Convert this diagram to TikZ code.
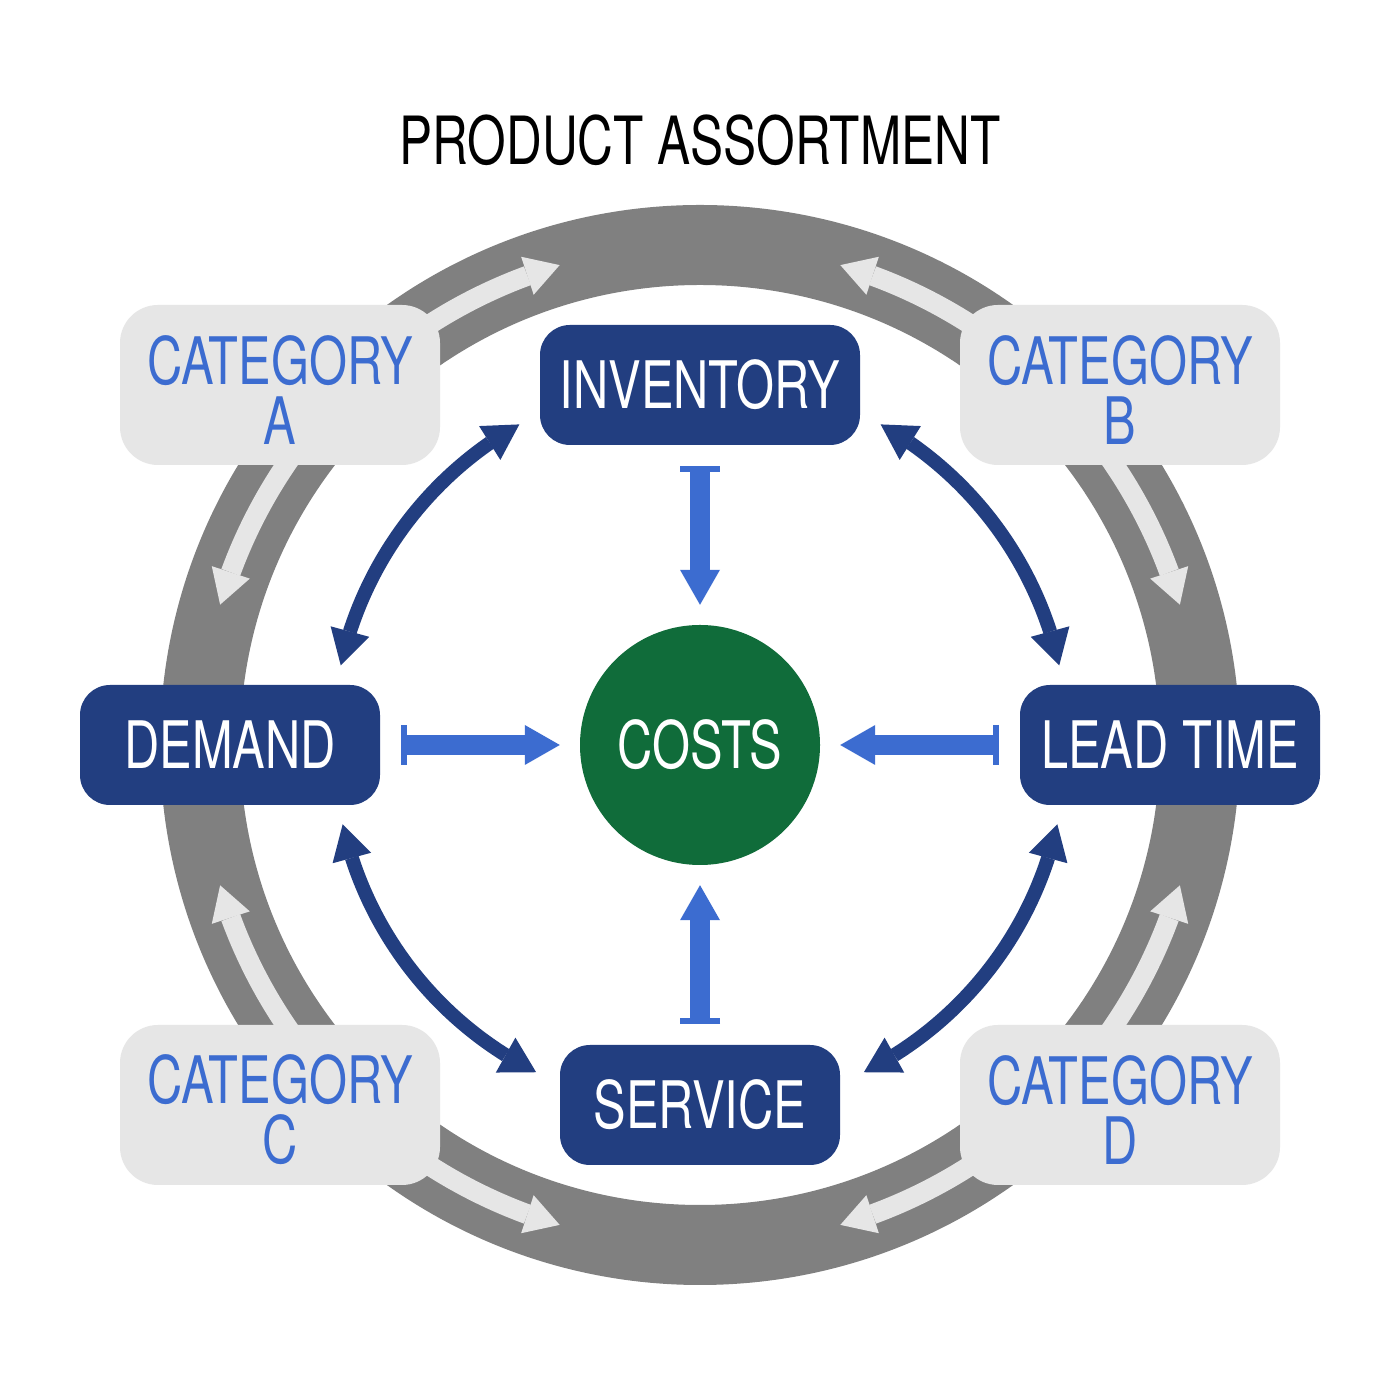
\documentclass[tikz,border=0pt]{standalone}
\usepackage{fontspec}
\setmainfont{TeX Gyre Heros}[FakeStretch=0.745]
\usetikzlibrary{arrows.meta,bending}
\definecolor{navy}{RGB}{34,62,128}
\definecolor{lblue}{RGB}{60,108,208}
\definecolor{costgreen}{RGB}{16,108,58}
\definecolor{ringgray}{RGB}{128,128,128}
\definecolor{lgray}{RGB}{230,230,230}
\newcommand{\bigfont}{\fontsize{65.5}{60}\selectfont}
\newcommand{\lowline}[1]{\raisebox{-5pt}[\height][\depth]{#1}}
\begin{document}
\begin{tikzpicture}[x=1pt,y=1pt,
  catbox/.style={fill=lgray, rounded corners=38, minimum width=320, minimum height=160, inner sep=0, text=lblue, align=center, font=\bigfont},
  darkbox/.style={fill=navy, rounded corners=30, minimum height=120, inner sep=0, text=white, font=\bigfont},
  ringarrow/.style={draw=lgray, line width=20, -{Triangle[width=40pt,length=34pt,line width=0pt]}},
  bothway/.style={draw=navy, line width=14, {Triangle[width=40pt,length=35pt,line width=0pt]}-{Triangle[width=40pt,length=35pt,line width=0pt]}},
  feed/.style={draw=lblue, line width=20, {Bar[width=40pt,line width=6pt]}-{Triangle[width=40pt,length=35pt,line width=0pt]}, shorten <=21, shorten >=20},
]
\useasboundingbox (0,0) rectangle (1400,1400);
\fill[white] (0,0) rectangle (1400,1400);
\coordinate (ctr) at (700,655);

% title
\node[font=\fontsize{66.5}{60}\selectfont, anchor=base] (title) at (700,1235) {PRODUCT ASSORTMENT};

% ring
\draw[ringgray, line width=80] (ctr) circle[radius=500];

% arrows on ring
\foreach \s/\e in {135/106.3, 135/163.7, 45/73.7, 45/16.3, 225/196.3, 225/253.7, 315/343.7, 315/286.3}
  \draw[ringarrow] ([shift={(\s:500)}]ctr) arc[start angle=\s, end angle=\e, radius=500];

% category boxes
\node[catbox] (catA) at (280,1015) {\lowline{CATEGORY}\\\lowline{A}};
\node[catbox] (catB) at (1120,1015) {\lowline{CATEGORY}\\\lowline{B}};
\node[catbox] (catC) at (280,295) {\lowline{CATEGORY}\\\lowline{C}};
\node[catbox] (catD) at (1120,295) {\lowline{CATEGORY}\\\lowline{D}};

% main boxes
\node[darkbox, minimum width=320] (inv) at (700,1015) {INVENTORY};
\node[darkbox, minimum width=300] (dem) at (230,655) {DEMAND};
\node[darkbox, minimum width=300] (lead) at (1170,655) {LEAD TIME};
\node[darkbox, minimum width=280] (serv) at (700,295) {SERVICE};
\node[circle, fill=costgreen, minimum size=240, inner sep=0, text=white, font=\bigfont] (costs) at (ctr) {COSTS};

% curved double arrows
\draw[bothway] ([shift={(119.4:368)}]ctr) arc[start angle=119.4, end angle=167.5, radius=368];
\draw[bothway] ([shift={(60.6:368)}]ctr) arc[start angle=60.6, end angle=12.5, radius=368];
\draw[bothway] ([shift={(-12.5:366)}]ctr) arc[start angle=-12.5, end angle=-63.4, radius=366];
\draw[bothway] ([shift={(192.5:366)}]ctr) arc[start angle=192.5, end angle=243.4, radius=366];

% straight arrows into costs
\draw[feed] (inv.south) -- (costs.north);
\draw[feed] (dem.east) -- (costs.west);
\draw[feed] (lead.west) -- (costs.east);
\draw[feed] (serv.north) -- (costs.south);
\end{tikzpicture}
\end{document}
